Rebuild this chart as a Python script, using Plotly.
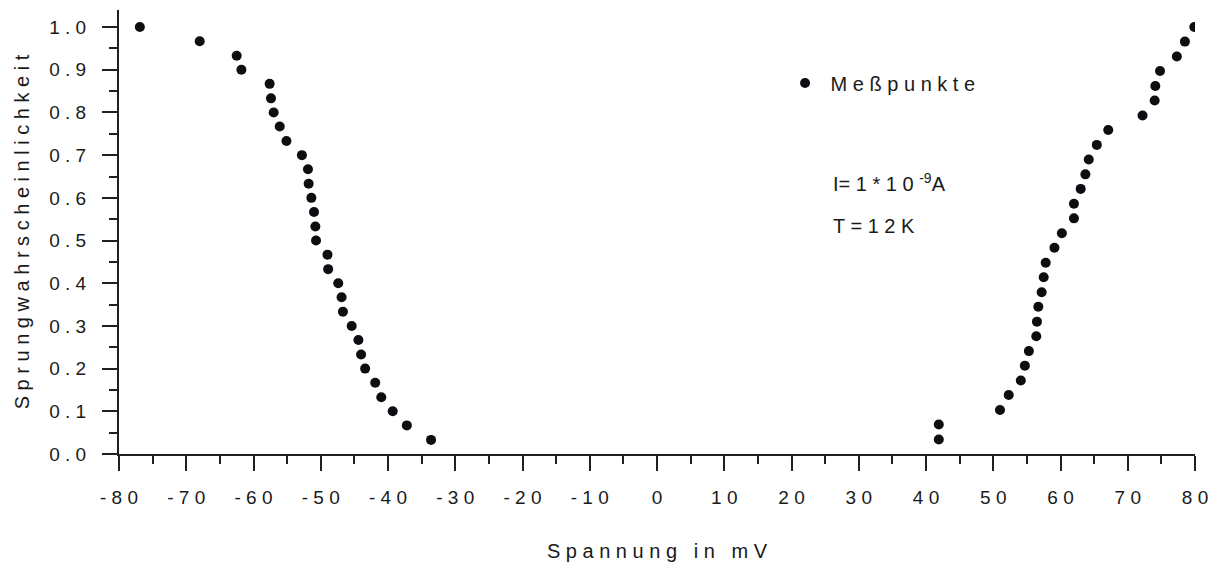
import plotly.graph_objects as go

# Data
left_x = [-76.9, -68.0, -62.5, -61.8, -57.6, -57.4, -57.0, -56.1, -55.1, -52.8,
          -51.9, -51.8, -51.4, -51.0, -50.8, -50.7, -49.0, -48.9, -47.4, -46.9,
          -46.7, -45.4, -44.4, -44.0, -43.4, -41.9, -41.0, -39.3, -37.2, -33.6]
left_y = [1.0, 0.967, 0.933, 0.9, 0.867, 0.833, 0.8, 0.767, 0.733, 0.7,
          0.667, 0.633, 0.6, 0.567, 0.533, 0.5, 0.467, 0.433, 0.4, 0.367,
          0.333, 0.3, 0.267, 0.233, 0.2, 0.167, 0.133, 0.1, 0.067, 0.033]
right_x = [41.9, 41.9, 51.0, 52.3, 54.1, 54.7, 55.3, 56.4, 56.5, 56.7,
           57.2, 57.5, 57.8, 59.1, 60.2, 62.0, 62.0, 63.0, 63.7, 64.2,
           65.4, 67.1, 72.2, 74.0, 74.1, 74.8, 77.3, 78.5, 79.9]
right_y = [0.034, 0.069, 0.103, 0.138, 0.172, 0.207, 0.241, 0.276, 0.310, 0.345,
           0.379, 0.414, 0.448, 0.483, 0.517, 0.552, 0.586, 0.621, 0.655, 0.690,
           0.724, 0.759, 0.793, 0.828, 0.862, 0.897, 0.931, 0.966, 1.0]

x_ticks = [-80, -70, -60, -50, -40, -30, -20, -10, 0, 10, 20, 30, 40, 50, 60, 70, 80]
x_ticklabels = ["- 8 0", "- 7 0", "- 6 0", "- 5 0", "- 4 0", "- 3 0", "- 2 0", "- 1 0", "0",
                "1 0", "2 0", "3 0", "4 0", "5 0", "6 0", "7 0", "8 0"]
y_ticks = [0.0, 0.1, 0.2, 0.3, 0.4, 0.5, 0.6, 0.7, 0.8, 0.9, 1.0]
y_ticklabels = ["0 . 0", "0 . 1", "0 . 2", "0 . 3", "0 . 4", "0 . 5",
                "0 . 6", "0 . 7", "0 . 8", "0 . 9", "1 . 0"]

FONT = "Liberation Sans, Arial, sans-serif"
INK = "#231f20"
TXT = "#1a1a1a"
NB = "\u00a0"

fig = go.Figure()
fig.add_trace(go.Scatter(
    x=left_x + right_x, y=left_y + right_y,
    mode="markers",
    marker=dict(size=10, color="#0d0d12"),
    name=NB + "M e ß p u n k t e",
    showlegend=True,
))

axis_common = dict(
    showline=True, linecolor=INK, linewidth=2,
    ticks="outside", ticklen=15, tickwidth=2, tickcolor=INK,
    showgrid=False, zeroline=False, automargin=False,
    tickfont=dict(family=FONT, size=19, color=TXT),
)

fig.update_layout(
    width=1217, height=564,
    margin=dict(l=119, r=22, t=10, b=110),
    paper_bgcolor="white", plot_bgcolor="white",
    font=dict(family=FONT, color=TXT, size=20),
    xaxis=dict(
        range=[-80, 80], tickmode="array", tickvals=x_ticks, ticktext=x_ticklabels,
        minor=dict(dtick=5, tick0=-80, ticklen=8, tickwidth=2, tickcolor=INK, ticks="outside", showgrid=False),
        title=dict(text="S p a n n u n g" + NB * 3 + "i n" + NB * 3 + "m V",
                   font=dict(family=FONT, size=20, color=TXT), standoff=37),
        ticklabelstandoff=10,
        **axis_common,
    ),
    yaxis=dict(
        range=[0, 1.04], tickmode="array", tickvals=y_ticks, ticktext=y_ticklabels,
        minor=dict(dtick=0.05, tick0=0, ticklen=8, tickwidth=2, tickcolor=INK, ticks="outside", showgrid=False),
        title=dict(text="S p r u n g w a h r s c h e i n l i c h k e i t",
                   font=dict(family=FONT, size=20, color=TXT), standoff=14),
        ticklabelstandoff=12,
        **axis_common,
    ),
    legend=dict(x=0.619, y=0.8356, xanchor="left", yanchor="middle",
                bgcolor="rgba(0,0,0,0)", font=dict(family=FONT, size=20, color=TXT)),
    annotations=[
        dict(xref="paper", yref="paper", x=0.6617, y=0.6104, xanchor="left", yanchor="middle",
             text="I= 1 * 1 0 <sup>-9</sup>A", showarrow=False,
             font=dict(family=FONT, size=20, color=TXT)),
        dict(xref="paper", yref="paper", x=0.6617, y=0.5135, xanchor="left", yanchor="middle",
             text="T = 1 2 K", showarrow=False,
             font=dict(family=FONT, size=20, color=TXT)),
    ],
)

fig.write_html("out.html")
